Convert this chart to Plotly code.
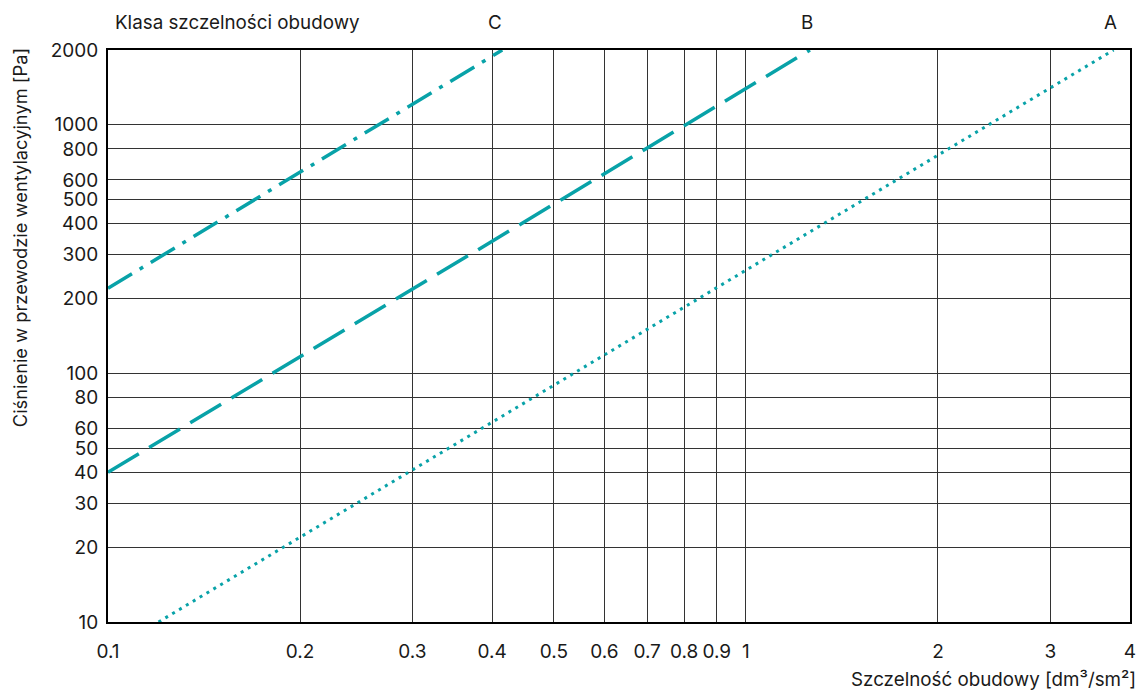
import plotly.graph_objects as go
import math

# Leakage class lines (straight in log-log space): end points
class_names = ["A", "B", "C"]
a_x = [0.12, 3.77]
a_y = [10, 2000]
b_x = [0.1, 1.26]
b_y = [40, 2000]
c_x = [0.1, 0.415]
c_y = [220, 2000]

x_ticks = [0.1, 0.2, 0.3, 0.4, 0.5, 0.6, 0.7, 0.8, 0.9, 1, 2, 3, 4]
x_tick_labels = ["0.1", "0.2", "0.3", "0.4", "0.5", "0.6", "0.7", "0.8", "0.9", "1", "2", "3", "4"]
y_ticks = [10, 20, 30, 40, 50, 60, 80, 100, 200, 300, 400, 500, 600, 800, 1000, 2000]
y_tick_labels = [str(v) for v in y_ticks]

TEAL = "#08a2a8"
FONT = "Inter"
TXT = "#1a1a1a"

fig = go.Figure()
fig.add_trace(go.Scatter(x=a_x, y=a_y, mode="lines", name="A",
                         line=dict(color=TEAL, width=3, dash="3px,5px")))
fig.add_trace(go.Scatter(x=b_x, y=b_y, mode="lines", name="B",
                         line=dict(color=TEAL, width=3.5, dash="36px,12px")))
fig.add_trace(go.Scatter(x=c_x, y=c_y, mode="lines", name="C",
                         line=dict(color=TEAL, width=3.5, dash="28px,9px,4px,9px")))

# Class labels above the plot, placed near the end of each line
label_x = {"A": 3.73, "B": 1.245, "C": 0.404}
annotations = [
    dict(text="Klasa szczelności obudowy", x=0, xref="paper", xanchor="left",
         xshift=5, y=1, yref="paper", yanchor="bottom", yshift=14,
         showarrow=False, font=dict(size=18.8, color=TXT, family=FONT)),
    dict(text="Szczelność obudowy [dm³/sm²]", x=1, xref="paper", xanchor="right",
         xshift=8, y=0, yref="paper", yanchor="top", yshift=-44,
         showarrow=False, font=dict(size=18.8, color=TXT, family=FONT)),
    # vertical axis title, set higher than the plot's centre
    dict(text="Ciśnienie w przewodzie wentylacyjnym [Pa]", textangle=-90,
         x=0, xref="paper", xanchor="center", xshift=-88,
         y=0.671, yref="paper", yanchor="middle",
         showarrow=False, font=dict(size=18.3, color=TXT, family=FONT)),
]
for name in class_names:
    annotations.append(dict(text=name, x=math.log10(label_x[name]), xref="x",
                            xanchor="center", y=1, yref="paper", yanchor="bottom",
                            yshift=14, showarrow=False,
                            font=dict(size=18.8, color=TXT, family=FONT)))

fig.update_layout(
    width=1145, height=691,
    margin=dict(l=108, r=9, t=50, b=69),
    paper_bgcolor="white", plot_bgcolor="white",
    showlegend=False,
    font=dict(family=FONT, color=TXT),
    annotations=annotations,
    xaxis=dict(type="log", range=[-1, math.log10(4)],
               tickvals=x_ticks, ticktext=x_tick_labels,
               tickfont=dict(size=19, color=TXT, family=FONT),
               showgrid=True, gridcolor="#333333", gridwidth=1,
               showline=True, linecolor="black", linewidth=2, mirror=True,
               ticks="", ticklabelstandoff=11, zeroline=False),
    yaxis=dict(type="log", range=[1, math.log10(2000)],
               tickvals=y_ticks, ticktext=y_tick_labels,
               tickfont=dict(size=19, color=TXT, family=FONT),
               showgrid=True, gridcolor="#333333", gridwidth=1,
               showline=True, linecolor="black", linewidth=2, mirror=True,
               ticks="", ticklabelstandoff=4, zeroline=False),
)

fig.write_html("out.html")
